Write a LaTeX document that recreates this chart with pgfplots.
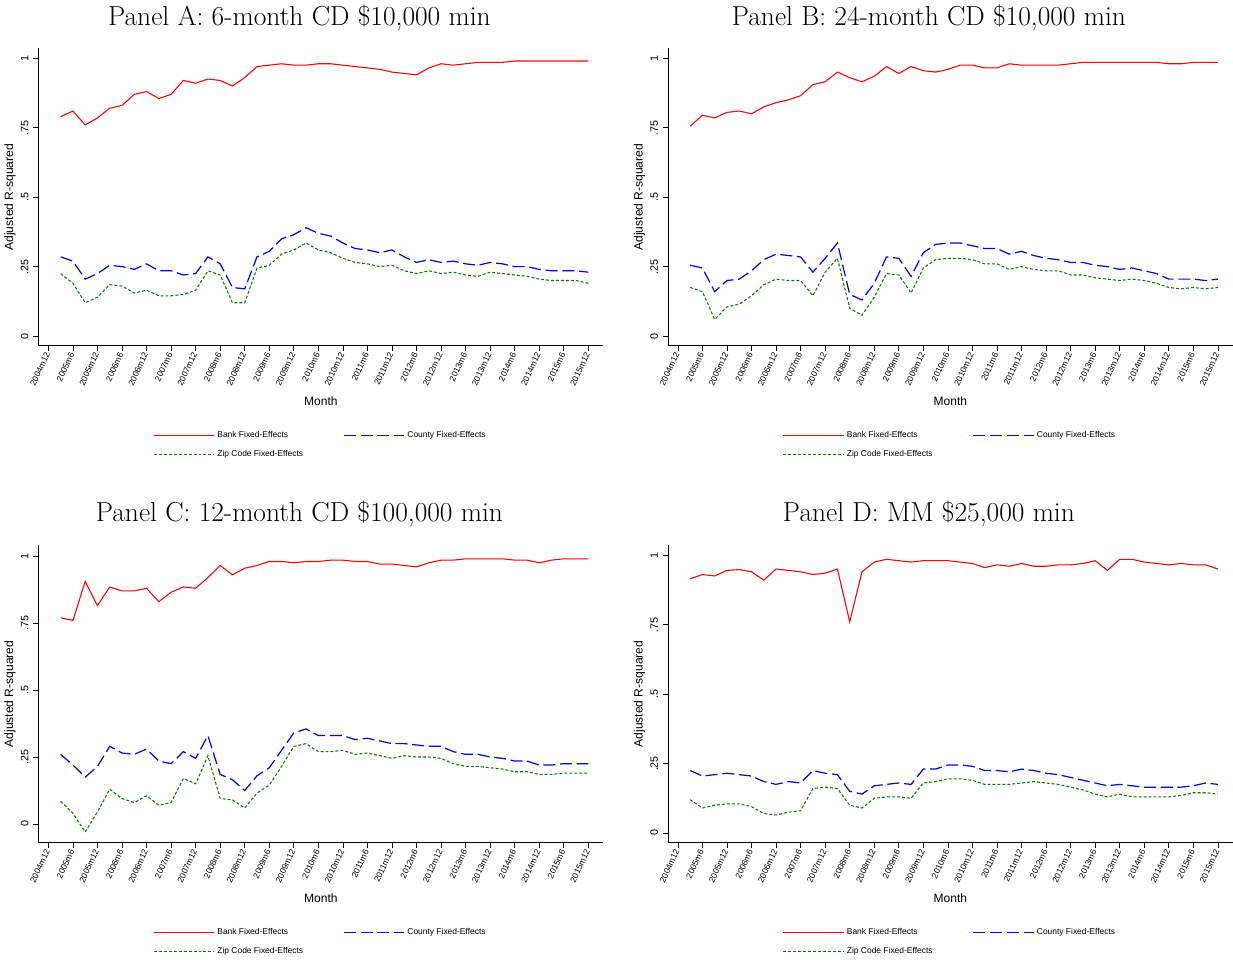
\documentclass[border=0pt]{standalone}
\usepackage{pgfplots}
\usepackage{pgfplotstable}
\pgfplotsset{compat=1.18}
\usepackage{fontspec}
\setsansfont{Liberation Sans}
\definecolor{zgreen}{RGB}{0,128,0}
\pgfplotstableread{
t bank county zip
1 .79 .285 .225
2 .81 .27 .19
3 .76 .205 .12
4 .785 .225 .14
5 .82 .255 .185
6 .83 .25 .18
7 .87 .24 .155
8 .88 .26 .165
9 .855 .235 .145
10 .87 .235 .145
11 .92 .22 .15
12 .91 .225 .165
13 .925 .285 .235
14 .92 .26 .22
15 .90 .175 .12
16 .93 .17 .12
17 .97 .285 .245
18 .975 .305 .255
19 .98 .35 .295
20 .975 .365 .31
21 .975 .39 .335
22 .98 .37 .31
23 .98 .36 .30
24 .975 .335 .28
25 .97 .315 .265
26 .965 .31 .26
27 .96 .30 .25
28 .95 .31 .255
29 .945 .285 .235
30 .94 .265 .225
31 .965 .275 .235
32 .98 .265 .225
33 .975 .27 .23
34 .98 .26 .22
35 .985 .255 .215
36 .985 .265 .23
37 .985 .26 .225
38 .99 .25 .22
39 .99 .25 .215
40 .99 .24 .205
41 .99 .235 .20
42 .99 .235 .20
43 .99 .235 .20
44 .99 .23 .19
}\tabA
\pgfplotstableread{
t bank county zip
1 .755 .255 .175
2 .795 .245 .16
3 .785 .16 .06
4 .805 .20 .105
5 .81 .205 .115
6 .80 .235 .145
7 .825 .275 .185
8 .84 .295 .205
9 .85 .29 .20
10 .865 .285 .20
11 .905 .23 .145
12 .915 .28 .23
13 .95 .335 .28
14 .93 .15 .10
15 .915 .13 .075
16 .935 .19 .14
17 .97 .285 .225
18 .945 .28 .22
19 .97 .215 .155
20 .955 .30 .245
21 .95 .33 .275
22 .96 .335 .28
23 .975 .335 .28
24 .975 .325 .275
25 .965 .315 .26
26 .965 .315 .26
27 .98 .295 .24
28 .975 .305 .25
29 .975 .29 .24
30 .975 .28 .235
31 .975 .275 .235
32 .98 .265 .22
33 .985 .265 .22
34 .985 .255 .21
35 .985 .25 .205
36 .985 .24 .20
37 .985 .245 .205
38 .985 .235 .20
39 .985 .225 .19
40 .98 .205 .175
41 .98 .205 .17
42 .985 .205 .175
43 .985 .20 .17
44 .985 .205 .175
}\tabB
\pgfplotstableread{
t bank county zip
1 .77 .26 .085
2 .76 .22 .04
3 .905 .175 -.03
4 .815 .215 .045
5 .885 .29 .13
6 .87 .265 .095
7 .87 .26 .08
8 .88 .28 .105
9 .83 .235 .07
10 .865 .225 .08
11 .885 .27 .17
12 .88 .245 .15
13 .92 .33 .255
14 .965 .185 .095
15 .93 .165 .09
16 .955 .125 .06
17 .965 .18 .115
18 .98 .21 .145
19 .98 .275 .215
20 .975 .34 .29
21 .98 .355 .30
22 .98 .33 .27
23 .985 .33 .27
24 .985 .33 .275
25 .98 .315 .26
26 .98 .32 .265
27 .97 .31 .255
28 .97 .30 .245
29 .965 .30 .255
30 .96 .295 .25
31 .975 .29 .25
32 .985 .29 .245
33 .985 .27 .225
34 .99 .26 .215
35 .99 .26 .215
36 .99 .25 .21
37 .99 .245 .205
38 .985 .235 .195
39 .985 .235 .195
40 .975 .22 .185
41 .985 .22 .185
42 .99 .225 .19
43 .99 .225 .19
44 .99 .225 .19
}\tabC
\pgfplotstableread{
t bank county zip
1 .915 .225 .12
2 .93 .205 .09
3 .925 .21 .10
4 .945 .215 .105
5 .948 .21 .105
6 .94 .205 .095
7 .91 .185 .07
8 .95 .175 .065
9 .945 .185 .075
10 .94 .18 .08
11 .93 .225 .16
12 .935 .215 .165
13 .95 .21 .16
14 .76 .15 .10
15 .94 .14 .09
16 .975 .17 .125
17 .985 .175 .13
18 .98 .18 .13
19 .975 .175 .125
20 .98 .23 .18
21 .98 .23 .185
22 .98 .245 .195
23 .975 .245 .195
24 .97 .24 .19
25 .955 .225 .175
26 .965 .225 .175
27 .96 .22 .175
28 .97 .23 .18
29 .96 .225 .185
30 .96 .215 .18
31 .965 .21 .175
32 .965 .20 .165
33 .97 .19 .155
34 .98 .18 .14
35 .945 .17 .13
36 .985 .175 .14
37 .985 .17 .13
38 .975 .165 .13
39 .97 .165 .13
40 .965 .165 .13
41 .97 .165 .135
42 .965 .17 .145
43 .965 .18 .145
44 .95 .175 .14
}\tabD
\pgfplotsset{
  panel/.style={
    scale only axis, width=421.5pt, height=222pt,
    xmin=-0.8, xmax=45.2, ymin=-0.035, ymax=1.035,
    axis x line*=bottom, axis y line*=left,
    axis line style={line width=0.6pt, -},
    tick style={black, line width=0.5pt},
    tick align=outside, major tick length=4pt,
    xtick={0,2,...,44},
    xticklabels={2004m12,2005m6,2005m12,2006m6,2006m12,2007m6,2007m12,2008m6,2008m12,2009m6,2009m12,2010m6,2010m12,2011m6,2011m12,2012m6,2012m12,2013m6,2013m12,2014m6,2014m12,2015m6,2015m12},
    x tick label style={font=\sffamily\fontsize{6.3}{7}\selectfont, rotate=65, anchor=east, inner sep=1.5pt},
    ytick={0,0.25,0.5,0.75,1},
    yticklabels={0,.25,.5,.75,1},
    y tick label style={font=\sffamily\fontsize{8}{9}\selectfont, rotate=90, anchor=south},
    xlabel={Month}, ylabel={Adjusted R-squared},
    xlabel style={font=\sffamily\fontsize{9}{10}\selectfont, yshift=-2pt},
    ylabel style={font=\sffamily\fontsize{9}{10}\selectfont, yshift=-3pt},
    title style={font=\fontsize{20.5}{24}\selectfont, xshift=-16pt, yshift=4pt},
    legend columns=2,
    legend style={draw=none, at={(0.5,-0.27)}, anchor=north,
      font=\sffamily\fontsize{6.3}{7}\selectfont, row sep=4pt,
      /tikz/every even column/.append style={column sep=28pt}},
    legend cell align=left,
    legend image code/.code={\draw[#1] (0pt,0pt) -- (45pt,0pt);},
  },
  bank/.style={red, line width=0.8pt},
  county/.style={blue, line width=0.9pt, dash pattern=on 9pt off 3.5pt},
  zip/.style={zgreen, line width=0.8pt, dash pattern=on 2.2pt off 1.5pt},
}
\newcommand\series[1]{%
  \addplot[bank] table[x=t,y=bank]{#1};
  \addplot[county] table[x=t,y=county]{#1};
  \addplot[zip] table[x=t,y=zip]{#1};
  \legend{Bank Fixed-Effects,County Fixed-Effects,Zip Code Fixed-Effects}}
\begin{document}
\begin{tikzpicture}
\begin{axis}[panel, at={(0pt,0pt)}, title={Panel A: 6-month CD \$10,000 min}]
\series{\tabA}
\end{axis}
\begin{axis}[panel, at={(470pt,0pt)}, title={Panel B: 24-month CD \$10,000 min}]
\series{\tabB}
\end{axis}
\begin{axis}[panel, at={(0pt,-371pt)}, ymin=-0.07, ymax=1.04, title={Panel C: 12-month CD \$100,000 min}]
\series{\tabC}
\end{axis}
\begin{axis}[panel, at={(470pt,-371pt)}, title={Panel D: MM \$25,000 min}]
\series{\tabD}
\end{axis}
\end{tikzpicture}
\end{document}
